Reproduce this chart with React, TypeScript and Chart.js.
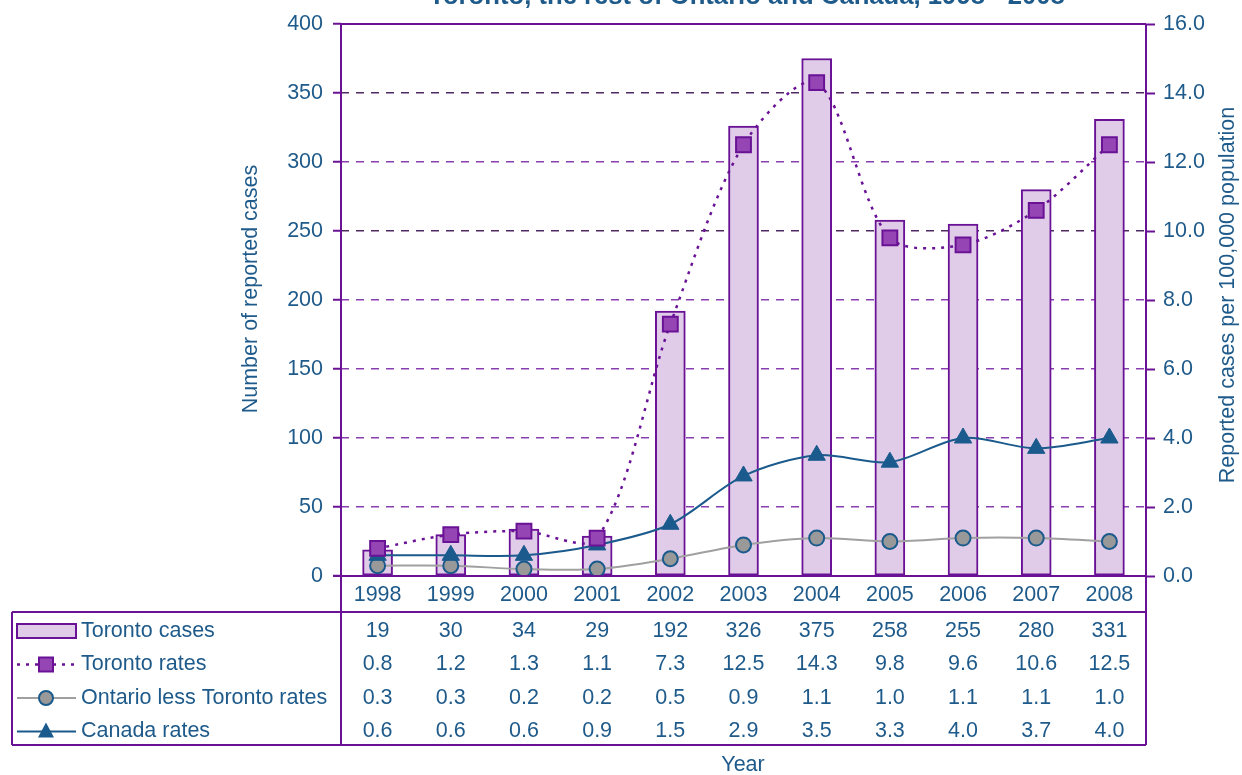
import React, { useEffect, useRef } from "react";
import { Chart, registerables } from "chart.js";

Chart.register(...registerables);

// ---------- data ----------
const chartTitle = "Toronto, the rest of Ontario and Canada, 1998 - 2008";
const years = ["1998", "1999", "2000", "2001", "2002", "2003", "2004", "2005", "2006", "2007", "2008"];
const torontoCases = [19, 30, 34, 29, 192, 326, 375, 258, 255, 280, 331];
const torontoRates = [0.8, 1.2, 1.3, 1.1, 7.3, 12.5, 14.3, 9.8, 9.6, 10.6, 12.5];
const ontarioRates = [0.3, 0.3, 0.2, 0.2, 0.5, 0.9, 1.1, 1.0, 1.1, 1.1, 1.0];
const canadaRates = [0.6, 0.6, 0.6, 0.9, 1.5, 2.9, 3.5, 3.3, 4.0, 3.7, 4.0];
const seriesNames = ["Toronto cases", "Toronto rates", "Ontario less Toronto rates", "Canada rates"];
const leftAxisTitle = "Number of reported cases";
const rightAxisTitle = "Reported cases per 100,000 population";
const xAxisTitle = "Year";
const leftMax = 400;
const leftStep = 50;
const rightMax = 16;
const rightStep = 2;

// ---------- styles ----------
const PURPLE = "#6a1296";
const LAVENDER = "#e0cce8";
const SQUARE_FILL = "#9646b4";
const BLUE = "#1a5a8c";
const TEXT = "#1e5a8a";
const GRAY_LINE = "#a0a0a0";
const GRAY_FILL = "#999999";
const FONT = "'Liberation Sans', Arial, Helvetica, sans-serif";
const FS = 21.5;

const W = 1242;
const H = 775;
const PLOT_LEFT = 341;
const PLOT_RIGHT = 1146;
const PLOT_TOP = 24;
const PLOT_BOTTOM = 576;
const TABLE_LEFT = 12;
const TABLE_TOP = 612;
const TABLE_BOTTOM = 745;

function drawSquare(ctx: CanvasRenderingContext2D, x: number, y: number, s: number) {
  ctx.fillStyle = SQUARE_FILL;
  ctx.strokeStyle = PURPLE;
  ctx.lineWidth = 2;
  ctx.setLineDash([]);
  ctx.fillRect(x - s / 2, y - s / 2, s, s);
  ctx.strokeRect(x - s / 2, y - s / 2, s, s);
}

const overlayPlugin = {
  id: "overlayPlugin",
  afterDraw(chart: any) {
    const ctx: CanvasRenderingContext2D = chart.ctx;
    const { left, right, top, bottom } = chart.chartArea;
    const xs = chart.scales.x;
    ctx.save();

    // frame + table lines
    ctx.strokeStyle = PURPLE;
    ctx.lineWidth = 2;
    ctx.setLineDash([]);
    ctx.beginPath();
    ctx.moveTo(left, top);
    ctx.lineTo(right, top);
    ctx.moveTo(left - 8, bottom);
    ctx.lineTo(right, bottom);
    ctx.moveTo(left, top);
    ctx.lineTo(left, TABLE_BOTTOM);
    ctx.moveTo(right, top);
    ctx.lineTo(right, TABLE_BOTTOM);
    ctx.moveTo(TABLE_LEFT, TABLE_TOP);
    ctx.lineTo(right, TABLE_TOP);
    ctx.moveTo(TABLE_LEFT, TABLE_BOTTOM);
    ctx.lineTo(right, TABLE_BOTTOM);
    ctx.moveTo(TABLE_LEFT, TABLE_TOP);
    ctx.lineTo(TABLE_LEFT, TABLE_BOTTOM);
    ctx.stroke();

    // year labels
    ctx.fillStyle = TEXT;
    ctx.font = `${FS}px ${FONT}`;
    ctx.textAlign = "center";
    ctx.textBaseline = "middle";
    years.forEach((y, i) => {
      ctx.fillText(y, xs.getPixelForValue(i), (bottom + TABLE_TOP) / 2 + 1);
    });

    // table rows
    const rows = [
      torontoCases.map((v) => String(v)),
      torontoRates.map((v) => v.toFixed(1)),
      ontarioRates.map((v) => v.toFixed(1)),
      canadaRates.map((v) => v.toFixed(1)),
    ];
    const rowY = (r: number) => TABLE_TOP + 19 + r * 33.5;
    rows.forEach((row, r) => {
      row.forEach((t, i) => {
        ctx.fillStyle = TEXT;
        ctx.textAlign = "center";
        ctx.fillText(t, xs.getPixelForValue(i), rowY(r));
      });
      ctx.textAlign = "left";
      ctx.fillText(seriesNames[r], 81, rowY(r));
    });

    // legend keys
    const kx0 = 17;
    const kx1 = 76;
    const kc = 46;
    let y = rowY(0);
    ctx.fillStyle = LAVENDER;
    ctx.fillRect(kx0, y - 7, kx1 - kx0, 14);
    ctx.strokeStyle = PURPLE;
    ctx.lineWidth = 2;
    ctx.strokeRect(kx0, y - 7, kx1 - kx0, 14);
    y = rowY(1);
    ctx.strokeStyle = PURPLE;
    ctx.lineWidth = 2.5;
    ctx.setLineDash([3, 6]);
    ctx.beginPath();
    ctx.moveTo(kx0, y);
    ctx.lineTo(kx1, y);
    ctx.stroke();
    ctx.setLineDash([]);
    drawSquare(ctx, kc, y, 14);
    y = rowY(2);
    ctx.strokeStyle = GRAY_LINE;
    ctx.lineWidth = 2;
    ctx.beginPath();
    ctx.moveTo(kx0, y);
    ctx.lineTo(kx1, y);
    ctx.stroke();
    ctx.beginPath();
    ctx.arc(kc, y, 7, 0, Math.PI * 2);
    ctx.fillStyle = GRAY_FILL;
    ctx.fill();
    ctx.strokeStyle = BLUE;
    ctx.stroke();
    y = rowY(3);
    ctx.strokeStyle = BLUE;
    ctx.lineWidth = 2;
    ctx.beginPath();
    ctx.moveTo(kx0, y);
    ctx.lineTo(kx1, y);
    ctx.stroke();
    ctx.fillStyle = BLUE;
    ctx.beginPath();
    ctx.moveTo(kc, y - 9);
    ctx.lineTo(kc + 8, y + 6);
    ctx.lineTo(kc - 8, y + 6);
    ctx.closePath();
    ctx.fill();

    // axis titles
    ctx.fillStyle = TEXT;
    ctx.font = `${FS}px ${FONT}`;
    ctx.textAlign = "center";
    ctx.textBaseline = "middle";
    ctx.save();
    ctx.translate(251, 289);
    ctx.rotate(-Math.PI / 2);
    ctx.fillText(leftAxisTitle, 0, 0);
    ctx.restore();
    ctx.save();
    ctx.translate(1228, 295);
    ctx.rotate(-Math.PI / 2);
    ctx.fillText(rightAxisTitle, 0, 0);
    ctx.restore();
    ctx.fillText(xAxisTitle, 743, 765);

    // chart title (cut at top as in the source)
    ctx.font = `bold 20px ${FONT}`;
    const w20 = ctx.measureText(chartTitle).width;
    const fs = (20 * 636) / w20;
    ctx.font = `bold ${fs}px ${FONT}`;
    ctx.textBaseline = "alphabetic";
    ctx.fillText(chartTitle, 747, 4);

    ctx.restore();
  },
};

export default function App() {
  const ref = useRef<HTMLCanvasElement | null>(null);

  useEffect(() => {
    if (!ref.current) return;
    const gridColor = (c: any) => {
      const v = c.tick ? c.tick.value : 0;
      return v === 350 || v === 250 ? "#4e2a62" : "#8a3fb0";
    };
    const chart = new Chart(ref.current, {
      type: "bar",
      data: {
        labels: years,
        datasets: [
          {
            type: "line",
            label: seriesNames[1],
            data: torontoRates,
            yAxisID: "y1",
            borderColor: PURPLE,
            borderWidth: 2.5,
            borderDash: [3, 6],
            tension: 0.3,
            pointStyle: "rect",
            pointRadius: 10.5,
            pointBackgroundColor: SQUARE_FILL,
            pointBorderColor: PURPLE,
            pointBorderWidth: 2,
            order: 0,
          },
          {
            type: "line",
            label: seriesNames[3],
            data: canadaRates,
            yAxisID: "y1",
            borderColor: BLUE,
            borderWidth: 2,
            tension: 0.3,
            pointStyle: "triangle",
            pointRadius: 10,
            pointBackgroundColor: BLUE,
            pointBorderColor: BLUE,
            pointBorderWidth: 1,
            order: 1,
          },
          {
            type: "line",
            label: seriesNames[2],
            data: ontarioRates,
            yAxisID: "y1",
            borderColor: GRAY_LINE,
            borderWidth: 2,
            tension: 0.3,
            pointStyle: "circle",
            pointRadius: 7.5,
            pointBackgroundColor: GRAY_FILL,
            pointBorderColor: BLUE,
            pointBorderWidth: 2,
            order: 2,
          },
          {
            type: "bar",
            label: seriesNames[0],
            data: torontoCases,
            yAxisID: "y",
            backgroundColor: LAVENDER,
            borderColor: PURPLE,
            borderWidth: 2,
            borderSkipped: false,
            barThickness: 30,
            order: 3,
          },
        ],
      },
      options: {
        responsive: false,
        animation: false,
        layout: { padding: { top: PLOT_TOP, left: 0, right: 0, bottom: 0 } },
        plugins: {
          legend: { display: false },
          title: { display: false },
          tooltip: { enabled: false },
        },
        scales: {
          x: {
            type: "category",
            offset: true,
            grid: { display: false, drawTicks: false },
            border: { display: false },
            ticks: { display: false },
            afterFit: (s: any) => {
              s.height = H - PLOT_BOTTOM;
            },
          },
          y: {
            position: "left",
            min: 0,
            max: leftMax,
            ticks: {
              stepSize: leftStep,
              color: TEXT,
              font: { family: FONT, size: FS },
              padding: 10,
            },
            grid: {
              color: gridColor,
              lineWidth: 1.5,
              tickLength: 8,
              tickColor: PURPLE,
              tickWidth: 2,
              tickBorderDash: [],
            },
            border: { display: false, dash: [8, 7] },
            afterFit: (s: any) => {
              s.width = PLOT_LEFT;
            },
          },
          y1: {
            position: "right",
            min: 0,
            max: rightMax,
            ticks: {
              stepSize: rightStep,
              color: TEXT,
              font: { family: FONT, size: FS },
              padding: 8,
              callback: (v: any) => Number(v).toFixed(1),
            },
            grid: {
              drawOnChartArea: false,
              tickLength: 9,
              tickColor: PURPLE,
              tickWidth: 2,
            },
            border: { display: false },
            afterFit: (s: any) => {
              s.width = W - PLOT_RIGHT;
            },
          },
        },
      },
      plugins: [overlayPlugin],
    } as any);
    return () => chart.destroy();
  }, []);

  return (
    <div style={{ position: "fixed", left: 0, top: 0, width: W, height: H, background: "#fff" }}>
      <canvas ref={ref} width={W} height={H} style={{ display: "block", width: W, height: H }} />
    </div>
  );
}
